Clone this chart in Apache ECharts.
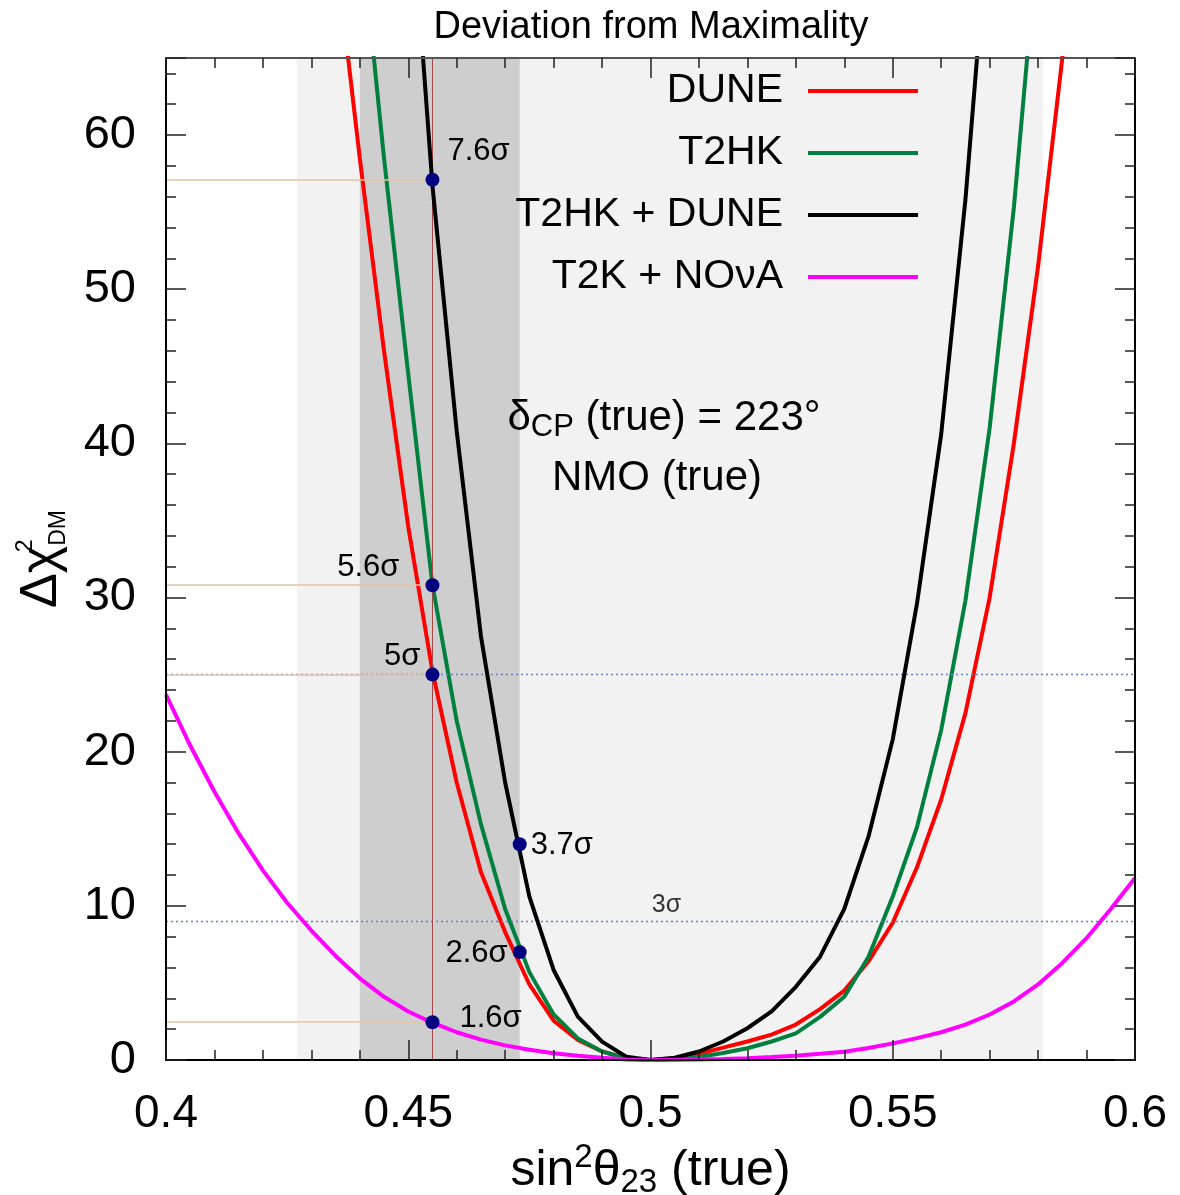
<!DOCTYPE html>
<html><head><meta charset="utf-8">
<script src="https://cdn.jsdelivr.net/npm/echarts@6/dist/echarts.min.js"></script>
<style>html,body{margin:0;padding:0;background:#fff}#c{width:1180px;height:1195px}</style>
</head><body><div id="c"></div><script>
const FONT = '"Liberation Sans", Arial, Helvetica, sans-serif';

// x grid for the three future-experiment curves
const xGrid = [0.435,0.44,0.445,0.45,0.455,0.46,0.465,0.47,0.475,0.48,0.485,0.49,0.495,0.5,
  0.505,0.51,0.515,0.52,0.525,0.53,0.535,0.54,0.545,0.55,0.555,0.56,0.565,0.57,0.575,0.58,0.585,0.59];
const dune = [72,58.5,46,34.6,25.2,18.0,12.2,8.3,4.9,2.55,1.3,0.55,0.12,0,
  0.1,0.4,0.8,1.2,1.65,2.3,3.3,4.5,6.4,8.9,12.5,16.9,22.5,30,40,51.5,65,80];
const t2hk = [null,74,58.5,44.5,30.8,22,15.3,9.8,5.7,2.95,1.4,0.55,0.1,0,
  0.05,0.2,0.45,0.76,1.2,1.73,2.8,4.1,6.7,10.6,15.1,21.4,29.8,41,55.3,73,null,null];
const combined = [null,null,null,78,56.7,40.8,27.5,18.0,10.6,5.84,2.81,1.19,0.21,0,
  0.15,0.55,1.2,2.06,3.15,4.75,6.7,9.8,14.5,20.8,29.6,40.6,55.8,75,null,null,null,null];
// T2K + NOvA
const xNova = [0.4,0.405,0.41,0.415,0.42,0.425,0.43,0.435,0.44,0.445,0.45,0.455,0.46,0.465,0.47,0.475,0.48,0.485,0.49,0.495,0.5,
  0.505,0.51,0.515,0.52,0.525,0.53,0.535,0.54,0.545,0.55,0.555,0.56,0.565,0.57,0.575,0.58,0.585,0.59,0.595,0.6];
const nova = [23.7,20.4,17.4,14.7,12.3,10.2,8.4,6.75,5.3,4.1,3.15,2.42,1.8,1.32,0.95,0.66,0.44,0.27,0.14,0.04,0,
  0.01,0.03,0.07,0.12,0.19,0.28,0.4,0.54,0.78,1.08,1.42,1.8,2.3,2.95,3.8,4.9,6.3,7.9,9.8,11.8];

const seriesNames = ['DUNE','T2HK','T2HK + DUNE','T2K + NOνA'];
const xTickLabels = ['0.4','0.45','0.5','0.55','0.6'];
const yTickLabels = ['0','10','20','30','40','50','60'];

const markerX = [0.455,0.455,0.455,0.473,0.473,0.455];
const markerY = [57.1,30.8,25,14,7,2.45];
const markerLabels = ['7.6σ','5.6σ','5σ','3.7σ','2.6σ','1.6σ'];
const tanLineY = [57.1,30.8,25,2.45];
const tanLineX = [0.4,0.455];
const sigmaLevels = [25,9];
const threeSigmaLabel = {x:0.5033, y:9, text:'3σ'};
const vLineX = 0.455;
const lightBand = [0.427,0.581];
const darkBand = [0.44,0.473];

const colors = ['#ff0000','#00803e','#000000','#ff00ff'];
const labelStyles = [
  {position:'right', offset:[3,-28]},
  {position:'left', offset:[-21,-18]},
  {position:'left', offset:[0,-18]},
  {position:'right', offset:[-1,1]},
  {position:'left', offset:[0,1]},
  {position:'right', offset:[15,-4]}
];

const chart = echarts.init(document.getElementById('c'), null, {renderer:'canvas'});

function mkX(pos, interval, len, labels, extra) {
  return Object.assign({
    type:'value', position:pos, min:0.4, max:0.6, interval:interval, z:10,
    axisLine:{show:true, onZero:false, lineStyle:{color: pos==='top' ? '#555' : '#000', width:2}},
    axisTick:{show:true, inside:true, length:len, lineStyle:{color:'#222', width:1.5}},
    axisLabel:{show:labels},
    splitLine:{show:false}
  }, extra||{});
}
function mkY(pos, interval, len, labels, extra) {
  return Object.assign({
    type:'value', position:pos, min:0, max:65, interval:interval, z:10,
    axisLine:{show:true, onZero:false, lineStyle:{color:'#000', width:2}},
    axisTick:{show:true, inside:true, length:len, lineStyle:{color:'#222', width:1.5}},
    axisLabel:{show:labels},
    splitLine:{show:false}
  }, extra||{});
}

const xAxes = [
  mkX('bottom',0.05,20,true,{
    axisLabel:{show:true, margin:31, fontSize:46, lineHeight:46, fontFamily:FONT, color:'#000',
      formatter:(v,i)=> xTickLabels[i] !== undefined ? xTickLabels[i] : ''},
    name:'{m|sin}{p|2}{m|θ}{b|23}{m| (true)}', nameLocation:'middle', nameGap:74,
    nameTextStyle:{fontFamily:FONT, color:'#000', rich:{
      m:{fontSize:50, lineHeight:58, fontFamily:FONT, color:'#000'},
      p:{fontSize:33, lineHeight:30, verticalAlign:'top', fontFamily:FONT, color:'#000'},
      b:{fontSize:33, lineHeight:16, verticalAlign:'bottom', fontFamily:FONT, color:'#000'}
    }}
  }),
  mkX('bottom',0.01,10,false),
  mkX('top',0.05,20,false),
  mkX('top',0.01,10,false)
];
const yAxes = [
  mkY('left',10,20,true,{
    axisLabel:{show:true, margin:30, fontSize:47, fontFamily:FONT, color:'#000',
      formatter:(v)=> yTickLabels.indexOf(String(v))>=0 ? String(v) : ''},
    name:'{m|Δχ}{p|2}{b|DM}', nameLocation:'middle', nameGap:96, nameRotate:90,
    nameTextStyle:{fontFamily:FONT, color:'#000', rich:{
      m:{fontSize:52, lineHeight:56, fontFamily:FONT, color:'#000'},
      p:{fontSize:23, lineHeight:24, width:0, verticalAlign:'top', fontFamily:FONT, color:'#000'},
      b:{fontSize:23, lineHeight:10, verticalAlign:'bottom', fontFamily:FONT, color:'#000'}
    }}
  }),
  mkY('left',2,10,false),
  mkY('right',10,20,false),
  mkY('right',2,10,false)
];

function pairs(xs, ys){ const out=[]; for(let i=0;i<xs.length;i++){ out.push([xs[i], ys[i]]); } return out; }

const series = [];
// shaded bands
series.push({
  type:'line', data:[], z:1, silent:true,
  markArea:{silent:true, data:[
    [{xAxis:lightBand[0], itemStyle:{color:'#f2f2f2'}},{xAxis:lightBand[1]}],
    [{xAxis:darkBand[0], itemStyle:{color:'#cecece'}},{xAxis:darkBand[1]}]
  ]}
});
// reference lines
const refLines = [];
sigmaLevels.forEach(v=>refLines.push({yAxis:v, lineStyle:{type:[2,3], color:'#5f7fc0', width:1.3}}));
tanLineY.forEach(v=>refLines.push([{coord:[tanLineX[0],v], lineStyle:{color:'#e3c4a2', width:1.6, type:'solid'}},{coord:[tanLineX[1],v]}]));
refLines.push({xAxis:vLineX, lineStyle:{color:'#a04848', width:1, type:'solid'}});
series.push({
  type:'line', data:[], z:2, silent:true,
  markLine:{silent:true, precision:6, symbol:['none','none'], label:{show:false}, data:refLines}
});
// curves
const curveData = [pairs(xGrid,dune), pairs(xGrid,t2hk), pairs(xGrid,combined), pairs(xNova,nova)];
curveData.forEach((d,i)=>{
  series.push({
    name:seriesNames[i], type:'line', data:d, z:3+i, showSymbol:false, symbol:'none',
    clip:true, connectNulls:false, smooth:false,
    lineStyle:{color:colors[i], width:4}, itemStyle:{color:colors[i]}
  });
});
// markers
series.push({
  type:'scatter', z:10, symbolSize:14,
  itemStyle:{color:'#000080', opacity:1},
  data: markerX.map((x,i)=>({
    value:[x, markerY[i]],
    label:Object.assign({show:true, formatter:markerLabels[i], fontSize:31, fontFamily:FONT, color:'#000', opacity:1, textBorderWidth:0}, labelStyles[i])
  }))
});
// 3 sigma label
series.push({
  type:'scatter', z:10, symbolSize:0,
  data:[{value:[threeSigmaLabel.x, threeSigmaLabel.y],
    label:{show:true, formatter:threeSigmaLabel.text, position:'top', distance:4, fontSize:25, fontFamily:FONT, color:'#000'}}]
});

// legend drawn as graphic
const legendRowsY = [91,153,215,277];
const graphics = [];
seriesNames.forEach((n,i)=>{
  graphics.push({type:'text', x:783, y:legendRowsY[i], z:100,
    style:{text:n, fill:'#000', font:'41px '+FONT, textAlign:'right', textVerticalAlign:'middle', align:'right', verticalAlign:'middle'}});
  graphics.push({type:'line', z:100, shape:{x1:808, y1:legendRowsY[i], x2:918, y2:legendRowsY[i]},
    style:{stroke:colors[i], lineWidth:4}});
});
graphics.push({type:'text', x:651, y:28, z:100,
  style:{text:'Deviation from Maximality', fill:'#000', font:'38px '+FONT, textAlign:'center', textVerticalAlign:'middle', align:'center', verticalAlign:'middle'}});
graphics.push({type:'text', x:664, y:418, z:100,
  style:{text:'{m|δ}{s|CP}{m| (true) = 223°}', textAlign:'center', textVerticalAlign:'middle', align:'center', verticalAlign:'middle',
    rich:{m:{fontSize:42, lineHeight:50, fontFamily:FONT, fill:'#000', color:'#000'},
          s:{fontSize:31, lineHeight:22, verticalAlign:'bottom', fontFamily:FONT, fill:'#000', color:'#000'}}}});
graphics.push({type:'text', x:657, y:478, z:100,
  style:{text:'NMO (true)', fill:'#000', font:'42px '+FONT, textAlign:'center', textVerticalAlign:'middle', align:'center', verticalAlign:'middle'}});

chart.setOption({
  animation:false,
  backgroundColor:'#ffffff',
  grid:{left:166, right:45, top:58, bottom:135, containLabel:false, outerBoundsMode:'none'},
  xAxis:xAxes,
  yAxis:yAxes,
  series:series,
  graphic:graphics
});
</script></body></html>
